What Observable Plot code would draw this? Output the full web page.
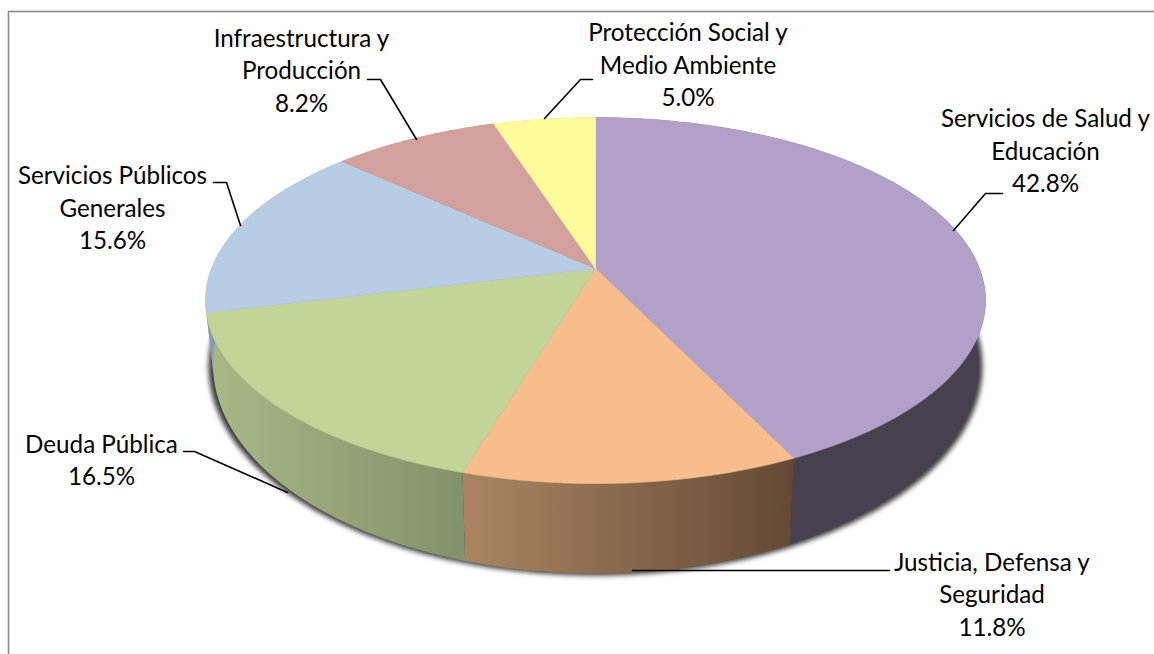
<!DOCTYPE html>
<html>
<head>
<meta charset="utf-8">
<script src="https://cdn.jsdelivr.net/npm/d3@7"></script>
<script src="https://cdn.jsdelivr.net/npm/@observablehq/plot@0.6"></script>
<style>html,body{margin:0;padding:0;background:#fff;overflow:hidden}svg{display:block}</style>
</head>
<body>
<div id="chart"></div>
<script>
// Data
const sectors = ["Servicios de Salud y Educación","Justicia, Defensa y Seguridad","Deuda Pública","Servicios Públicos Generales","Infraestructura y Producción","Protección Social y Medio Ambiente"];
const shares = [42.8,11.8,16.5,15.6,8.2,5.0];
const labelLines = [["Servicios de Salud y","Educación"],["Justicia, Defensa y","Seguridad"],["Deuda Pública"],["Servicios Públicos","Generales"],["Infraestructura y","Producción"],["Protección Social y","Medio Ambiente"]];

// Styles
const topColors = ["#b1a0c7","#f7bd8d","#c2d498","#b8cce4","#d2a19d","#fdfb9a"];
const wallFrom = ["#48404f","#ab8561","#a9b886","#8a9bb0","#a07c78","#c0be70"];
const wallTo   = ["#48404f","#634a35","#83916a","#8a9bb0","#a07c78","#c0be70"];

// Layout (pixels in the picture)
const W = 1154, H = 654, k = 0.175, cx = 595;
const topDisc = {cy:268, rx:384, ry:177.4};
const baseDisc = {cy:327.4, rx:376.5, ry:202.6};
const labelAt = [[1045,149],[991.5,592.5],[101,458],[112,206],[301,68.5],[687.5,63]];
const leaders = [[[1002,193],[985,193],[953,230]],[[889,570],[632,570]],[[183,451],[194,451],[287,492]],[[213,182],[226,182],[240,225]],[[367,79],[380,79],[416,139]],[[592,79],[580,79],[544,118]]];
const fontSize = 24.2, lineEm = 32.5/fontSize;

const project = (d, frac) => {
  const a = frac*2*Math.PI, u = Math.sin(a), v = -Math.cos(a), q = 1-k*v;
  return {x: cx+d.rx*u/q, y: d.cy+d.ry*v/q};
};
const arc = (d, f0, f1) => {
  const n = Math.max(2, Math.ceil((f1-f0)*360)), out = [];
  for (let i = 0; i <= n; i++) out.push(project(d, f0+(f1-f0)*i/n));
  return out;
};
const total = d3.sum(shares);
const ends = d3.cumsum(shares).map(s => s/total);
const starts = [0, ...ends.slice(0,-1)];

const face = i => [{x:cx,y:topDisc.cy}, ...arc(topDisc, starts[i], ends[i]), {x:cx,y:topDisc.cy}];
const wall = i => [...arc(topDisc, starts[i], ends[i]), ...arc(baseDisc, starts[i], ends[i]).reverse()];
const shadow = arc(baseDisc,0,1).map(p => ({x:cx+(p.x-cx)*1.012, y:p.y+2}));

const line = (data, o) => Plot.line(data, {x:"x", y:"y", curve:"linear", ...o});

const gradients = () => {
  const defs = d3.create("svg:defs");
  sectors.forEach((_, i) => {
    const g = defs.append("linearGradient").attr("id", "wall"+i);
    g.attr("gradientUnits","objectBoundingBox").attr("x1",0).attr("x2",1).attr("y1",0).attr("y2",0);
    g.append("stop").attr("offset",0).attr("stop-color",wallFrom[i]);
    g.append("stop").attr("offset",1).attr("stop-color",wallTo[i]);
  });
  return defs.node();
};

const labels = sectors.map((s,i) => ({
  x: labelAt[i][0], y: labelAt[i][1],
  text: [...labelLines[i], shares[i].toFixed(1)+"%"].join("\n")
}));

const chart = Plot.plot({
  width: W, height: H, margin: 0,
  x: {domain:[0,W], range:[0,W], axis:null},
  y: {domain:[0,H], range:[0,H], axis:null},
  marks: [
    gradients,
    Plot.rect([{x1:8.5,x2:1170,y1:11.5,y2:700}], {x1:"x1",x2:"x2",y1:"y1",y2:"y2",fill:"none",stroke:"#8c8c8c",strokeWidth:1.6}),
    line(shadow, {fill:"#3c3c3c", stroke:"none", imageFilter:"blur(2.5px)"}),
    ...sectors.map((_,i) => line(wall(i), {fill:`url(#wall${i})`, stroke:"none"})),
    ...sectors.map((_,i) => line(face(i), {fill:topColors[i], stroke:topColors[i], strokeWidth:0.7})),
    ...leaders.map(l => line(l.map(([x,y]) => ({x,y})), {stroke:"#000", strokeWidth:1.6, fill:"none"})),
    Plot.text(labels, {x:"x", y:"y", text:"text", textAnchor:"middle", lineAnchor:"middle", lineHeight:lineEm, fontSize, fontFamily:"Lato", fill:"#000"})
  ]
});
document.getElementById("chart").append(chart);
</script>
</body>
</html>
